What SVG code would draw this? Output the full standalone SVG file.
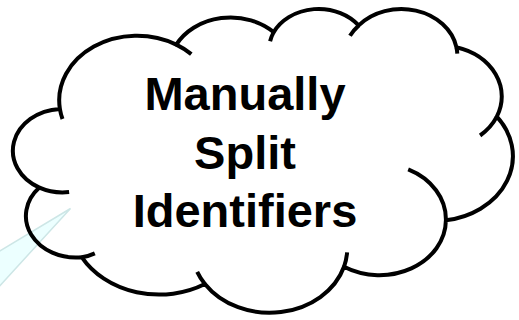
<svg xmlns="http://www.w3.org/2000/svg" width="519" height="320" viewBox="0 0 519 320">
  <style>
    .outline { fill: none; stroke: #000000; stroke-width: 4; stroke-linejoin: round; }
    .hook { fill: none; stroke: #000000; stroke-width: 4; }
    .tail { fill: #ecffff; stroke: #cde6e6; stroke-width: 1.5; }
    .label { font-family: "Liberation Sans", Arial, sans-serif; font-weight: bold; font-size: 47px; fill: #000000; text-anchor: middle; }
  </style>
  <rect x="0" y="0" width="519" height="320" fill="#ffffff"/>
  <g id="cloud-callout">
    <polygon class="tail" points="70.5,208.5 -5,254 -5,291"/>
    <path class="outline" d="M 59.9 109.0
      A 77.79 64.61 0 0 1 176.3 44.6
      A 61.44 51.09 0 0 1 273.7 32.1
      A 50.28 41.79 0 0 1 358.7 25.4
      A 55.95 46.36 0 0 1 456.4 47.2
      A 61.44 51.13 0 0 1 496.8 116.7
      A 78.05 64.82 0 0 1 445.9 220.3
      A 66.64 55.31 0 0 1 344.0 266.8
      A 77.78 64.78 0 0 1 204.9 284.0
      A 88.93 74.12 0 0 1 81.9 257.3
      A 50.23 41.60 0 0 1 39.4 187.6
      A 50.05 41.79 0 0 1 59.9 109.0 Z"/>
    <path class="hook" d="M 69.1 192.0 A 50.05 41.79 0 0 1 39.4 187.6
      M 94.8 253.3 A 50.23 41.60 0 0 1 81.9 257.3
      M 204.9 284.0 A 77.78 64.78 0 0 1 197.2 271.8
      M 347.1 252.3 A 77.78 64.78 0 0 1 344.0 266.8
      M 408.2 169.4 A 66.64 55.31 0 0 1 445.9 220.3
      M 496.8 116.7 A 61.44 51.13 0 0 1 480.1 135.5
      M 456.4 47.2 A 55.95 46.36 0 0 1 457.3 53.6
      M 350.0 35.8 A 55.95 46.36 0 0 1 358.7 25.4
      M 270.1 41.2 A 50.28 41.79 0 0 1 273.7 32.1
      M 176.3 44.6 A 77.79 64.61 0 0 1 191.3 54.1
      M 62.5 119.0 A 77.79 64.61 0 0 1 59.9 109.0"/>
    <text class="label" x="245" y="110">Manually</text>
    <text class="label" x="245" y="168.5">Split</text>
    <text class="label" x="245" y="227">Identifiers</text>
  </g>
</svg>
